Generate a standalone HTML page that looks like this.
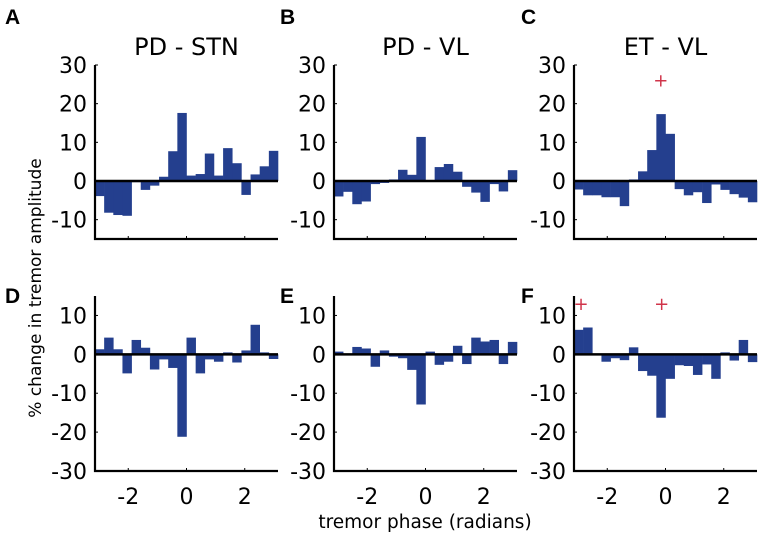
<!DOCTYPE html>
<html><head><meta charset="utf-8"><style>
body{margin:0;background:#fff;}
svg{display:block;font-family:"DejaVu Sans","Liberation Sans",sans-serif;}
</style></head><body>
<svg id="fig" width="760" height="538" xmlns="http://www.w3.org/2000/svg"></svg>
<script>
const binCount = 20;
const xTicks = [-2, 0, 2];
const topYTicks = [30, 20, 10, 0, -10];
const botYTicks = [10, 0, -10, -20, -30];
const seriesA = [-3.9,-8.2,-8.8,-9,-0.3,-2.3,-1.2,1.1,7.7,17.6,1.4,1.8,7.1,1.4,8.5,4.6,-3.6,1.7,3.8,7.8];
const seriesB = [-4,-2.8,-6,-5.3,-0.8,-0.5,0.4,2.9,1.6,11.4,0,3.6,4.4,2.4,-1.5,-3,-5.4,-0.8,-2.7,2.8];
const seriesC = [-2.2,-3.7,-3.7,-4.2,-4.2,-6.5,0.4,2.5,8,17.3,12.2,-2.1,-3.7,-2.9,-5.7,-0.9,-2.3,-3.4,-4.3,-5.5];
const seriesD = [1.3,4.3,1.3,-4.9,3.7,1.7,-3.9,-1.3,-3.5,-21.2,4.3,-4.9,-1.3,-1.9,0.5,-2.1,1,7.6,0.5,-1.2];
const seriesE = [0.7,0,1.9,1.5,-3.2,1,-0.6,-1,-4,-12.9,0.7,-2.7,-1.9,2.2,-2.5,4.3,3.3,3.7,-2.5,3.2];
const seriesF = [6.3,6.9,0,-1.9,-1,-1.5,1.8,-4.3,-5.5,-16.3,-6.3,-2.8,-3,-5.3,-2.6,-6.3,0.5,-1.6,3.7,-2];
const markersC = [[-0.16, 26]];
const markersF = [[-2.9, 13], [-0.13, 13]];

const NS = "http://www.w3.org/2000/svg";
const svg = document.getElementById('fig');
function mk(tag, attrs, parent, text){
  const e = document.createElementNS(NS, tag);
  for (const k in attrs) e.setAttribute(k, attrs[k]);
  if (text !== undefined) e.textContent = text;
  (parent||svg).appendChild(e);
  return e;
}
const panels = [
  {id:'a', letter:'A', lx:5, ly:24, title:'PD - STN', x0:95, top:65, bottom:239, ymin:-15, ymax:30, data:seriesA, ticks:topYTicks, marks:[], xlabels:false},
  {id:'b', letter:'B', lx:280, ly:24, title:'PD - VL', x0:334, top:65, bottom:239, ymin:-15, ymax:30, data:seriesB, ticks:topYTicks, marks:[], xlabels:false},
  {id:'c', letter:'C', lx:521, ly:24, title:'ET - VL', x0:574, top:65, bottom:239, ymin:-15, ymax:30, data:seriesC, ticks:topYTicks, marks:markersC, xlabels:false},
  {id:'d', letter:'D', lx:5, ly:303, title:'', x0:95, top:296, bottom:471, ymin:-30, ymax:15, data:seriesD, ticks:botYTicks, marks:[], xlabels:true},
  {id:'e', letter:'E', lx:280, ly:303, title:'', x0:334, top:296, bottom:471, ymin:-30, ymax:15, data:seriesE, ticks:botYTicks, marks:[], xlabels:true},
  {id:'f', letter:'F', lx:521, ly:303, title:'', x0:574, top:296, bottom:471, ymin:-30, ymax:15, data:seriesF, ticks:botYTicks, marks:markersF, xlabels:true}
];
const W = 183;
panels.forEach(p=>{
  const g = mk('g', {});
  
  
  const xs = v => p.x0 + (v + Math.PI) / (2*Math.PI) * W;
  const ys = v => p.bottom - (v - p.ymin) / (p.ymax - p.ymin) * (p.bottom - p.top);
  const L = mk('text', {x: p.lx, y: p.ly, 'font-size': 21, 'font-weight': 'bold', 'font-family': 'Liberation Sans, sans-serif'}, g, p.letter);
  
  
  if (p.title){
    const t = mk('text', {x: p.x0 + W/2, y: p.top - 10, 'font-size': 24, 'text-anchor': 'middle'}, g, p.title);
    
    
  }
  const bw = W / binCount;
  p.data.forEach((v, i)=>{
    const x = xs(-Math.PI + i * 2*Math.PI/binCount);
    const y1 = ys(Math.max(v,0)), y2 = ys(Math.min(v,0));
    const r = mk('rect', {x: x, y: y1, width: bw + 0.3, height: Math.max(y2 - y1, 0.01), fill: '#243f8e'}, g);
    
    
  });
  const z = mk('line', {x1: p.x0, x2: p.x0 + W, y1: ys(0), y2: ys(0), stroke: '#000', 'stroke-width': 2.5}, g);
  
  
  const ax = mk('path', {d: `M${p.x0},${p.top} V${p.bottom} H${p.x0+W}`, fill: 'none', stroke: '#000', 'stroke-width': 2.2}, g);
  
  
  p.ticks.forEach(t=>{
    const tl = mk('line', {x1: p.x0, x2: p.x0 + 3, y1: ys(t), y2: ys(t), stroke: '#000', 'stroke-width': 1}, g);
    
    
    const tx = mk('text', {x: p.x0 - 8, y: ys(t) + 8, 'font-size': 22, 'text-anchor': 'end'}, g, String(t));
    
    
  });
  xTicks.forEach(t=>{
    const tl = mk('line', {x1: xs(t), x2: xs(t), y1: p.bottom, y2: p.bottom - 3, stroke: '#000', 'stroke-width': 1}, g);
    
    
    if (p.xlabels){
      const tx = mk('text', {x: xs(t), y: p.bottom + 33, 'font-size': 22, 'text-anchor': 'middle'}, g, String(t));
      
      
    }
  });
  p.marks.forEach(m=>{
    const s = mk('text', {x: xs(m[0]), y: ys(m[1]) + 6, 'font-size': 18, fill: '#d0344a', 'text-anchor': 'middle'}, g, '+');
    
    
  });
});
const xl = mk('text', {x: 425, y: 528, 'font-size': 18.5, 'text-anchor': 'middle'}, svg, 'tremor phase (radians)');


const yl = mk('text', {x: 0, y: 0, 'font-size': 17, 'text-anchor': 'middle', transform: 'translate(41,288) rotate(-90)'}, svg, '% change in tremor amplitude');


</script>
</body></html>
